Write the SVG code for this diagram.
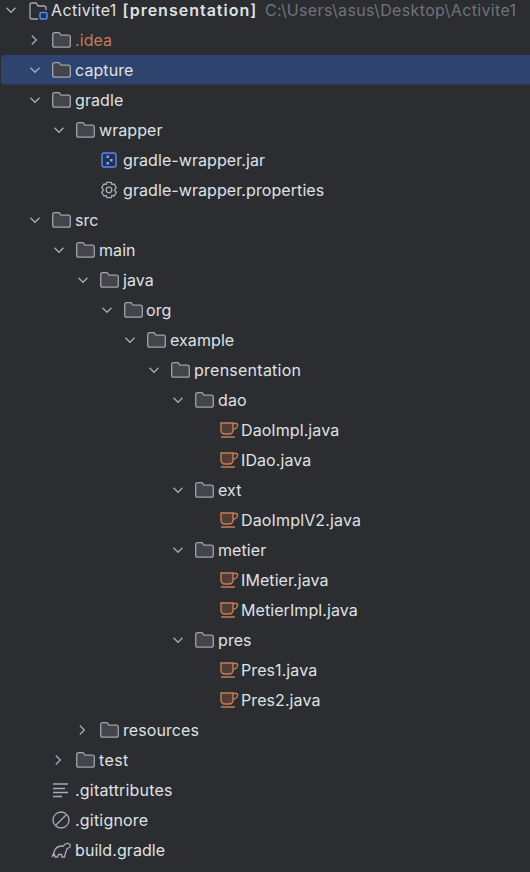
<svg xmlns="http://www.w3.org/2000/svg" width="530" height="872" viewBox="0 0 530 872">
<style>
text{font-family:Inter,"Noto Sans","Liberation Sans",sans-serif;font-size:16px;fill:#dfe1e5;letter-spacing:.08px}
.ch{fill:none;stroke:#a8adb5;stroke-width:1.3}
.f{fill:#43454a;stroke:#a0a3aa;stroke-width:1.300}
.l{fill:none;stroke:#a8abb2;stroke-width:1.300}
.j{fill:none;stroke:#c77d55;stroke-width:1.400}
</style>
<defs>
<path id="down" class="ch" d="M-4.500-2.200L0 2.300L4.500-2.200"/>
<path id="right" class="ch" d="M-2.200-4.500L2.300 0L-2.200 4.500"/>
<path id="folder" class="f" d="M-8.300-5.300a2 2 0 0 1 2-2h4.300l2 2.500h7.300a2 2 0 0 1 2 2v8a2 2 0 0 1-2 2h-13.600a2 2 0 0 1-2-2z"/>
<g id="java">
<path d="M-6-7h12v7.500a3.500 3.500 0 0 1-3.500 3.500h-5a3.500 3.500 0 0 1-3.500-3.500z" fill="#4f3d36" stroke="#c77d55" stroke-width="1.400"/>
<path class="j" d="M6-6.500h3.500a1 1 0 0 1 1 1v1a4 4 0 0 1-4.500 3.500M-6 7h14"/>
</g>
</defs>
<rect width="530" height="872" fill="#2b2d30"/>
<rect x="1" y="55" width="540" height="29.500" rx="4" fill="#2e436e"/>
<g id="root"><use href="#down" x="11" y="10"/>
<path class="l" d="M38 19h-6a2 2 0 0 1-2-2V5a2 2 0 0 1 2-2h4l2 3h6a2 2 0 0 1 2 2v2" fill="#43454a"/>
<rect x="40" y="12.500" width="7" height="6.500" rx="1.500" fill="#25324d" stroke="#548af7" stroke-width="1.500"/>
<text x="51" y="16" style="letter-spacing:.35px">Activite1</text><text x="122.500" y="16" style="font-weight:600;letter-spacing:1px">[prensentation]</text><text x="265" y="16" style="fill:#6f737a;letter-spacing:.35px">C:\Users\asus\Desktop\Activite1</text></g>
<g id="idea"><use href="#right" x="34" y="40"/><use href="#folder" x="61" y="40"/><text x="75" y="46" style="fill:#c27d54">.idea</text></g>
<g id="capture"><use href="#down" x="35" y="70"/><use href="#folder" x="61" y="70"/><text x="75" y="76">capture</text></g>
<g id="gradle"><use href="#down" x="35" y="100"/><use href="#folder" x="61" y="100"/><text x="75" y="106">gradle</text></g>
<g id="wrapper"><use href="#down" x="59" y="130"/><use href="#folder" x="85" y="130"/><text x="99" y="136">wrapper</text></g>
<g id="gradle-wrapper-jar"><rect x="102" y="153" width="14" height="14" rx="2" fill="#25324d" stroke="#548af7" stroke-width="1.400"/><path d="M106.500 155.500h2.500v2.500h-2.500zM110 159h2.500v2.500h-2.500zM106.500 162h2.500v2.500h-2.500z" fill="#7ba6fb"/><text x="123" y="166">gradle-wrapper.jar</text></g>
<g id="gradle-wrapper-properties"><circle cx="109" cy="190" r="2.800" class="l"/><path class="l" d="M106.800 182.300h4.400l.7 2.200 2.200-.5 2.200 3.700-1.600 1.800v1l1.600 1.800-2.200 3.700-2.200-.5-.7 2.200h-4.400l-.7-2.200-2.200.5-2.200-3.700 1.600-1.800v-1l-1.600-1.800 2.200-3.700 2.200.5z"/><text x="123" y="196">gradle-wrapper.properties</text></g>
<g id="src"><use href="#down" x="35" y="220"/><use href="#folder" x="61" y="220"/><text x="75" y="226">src</text></g>
<g id="main"><use href="#down" x="59" y="250"/><use href="#folder" x="85" y="250"/><text x="99" y="256">main</text></g>
<g id="java-dir"><use href="#down" x="83" y="280"/><use href="#folder" x="109" y="280"/><text x="123" y="286">java</text></g>
<g id="org"><use href="#down" x="107" y="310"/><use href="#folder" x="133" y="310"/><text x="146" y="316">org</text></g>
<g id="example"><use href="#down" x="130" y="340"/><use href="#folder" x="156" y="340"/><text x="170" y="346">example</text></g>
<g id="prensentation"><use href="#down" x="154" y="370"/><use href="#folder" x="180" y="370"/><text x="194" y="376" style="letter-spacing:.25px">prensentation</text></g>
<g id="dao"><use href="#down" x="178" y="400"/><use href="#folder" x="204" y="400"/><text x="218" y="406">dao</text></g>
<g id="DaoImpl"><use href="#java" x="227" y="430"/><text x="241" y="436">DaoImpl.java</text></g>
<g id="IDao"><use href="#java" x="227" y="460"/><text x="241" y="466">IDao.java</text></g>
<g id="ext"><use href="#down" x="178" y="490"/><use href="#folder" x="204" y="490"/><text x="218" y="496">ext</text></g>
<g id="DaoImplV2"><use href="#java" x="227" y="520"/><text x="241" y="526" style="letter-spacing:.15px">DaoImplV2.java</text></g>
<g id="metier"><use href="#down" x="178" y="550"/><use href="#folder" x="204" y="550"/><text x="218" y="556">metier</text></g>
<g id="IMetier"><use href="#java" x="227" y="580"/><text x="241" y="586">IMetier.java</text></g>
<g id="MetierImpl"><use href="#java" x="227" y="610"/><text x="241" y="616">MetierImpl.java</text></g>
<g id="pres"><use href="#down" x="178" y="640"/><use href="#folder" x="204" y="640"/><text x="218" y="646">pres</text></g>
<g id="Pres1"><use href="#java" x="227" y="670"/><text x="241" y="676">Pres1.java</text></g>
<g id="Pres2"><use href="#java" x="227" y="700"/><text x="241" y="706">Pres2.java</text></g>
<g id="resources"><use href="#right" x="82" y="730"/><use href="#folder" x="109" y="730"/><text x="123" y="736">resources</text></g>
<g id="test"><use href="#right" x="58" y="760"/><use href="#folder" x="85" y="760"/><text x="99" y="766" style="letter-spacing:.4px">test</text></g>
<g id="gitattributes"><path class="l" d="M53 784h15M53 788.500h12M53 792.500h15M53 796.500h9"/><text x="75" y="796" style="letter-spacing:.2px">.gitattributes</text></g>
<g id="gitignore"><circle cx="61" cy="820" r="8" class="l"/><path class="l" d="M55.500 825.500l11-11"/><text x="75" y="826" style="letter-spacing:.2px">.gitignore</text></g>
<g id="build-gradle"><path class="l" d="M52 857l2.500-6c1-3 4-5 8-5h1c1-2 3-3 5-2.500 1.500.5 2 2 1.500 3.500-1 1.500-3 1-3 2l-1.500 4-1 4h-2.500l-.5-2.500h-3l-1 2.500h-2.500l-.5-2.500-2 1.500z"/><text x="75" y="856">build.gradle</text></g>
</svg>
